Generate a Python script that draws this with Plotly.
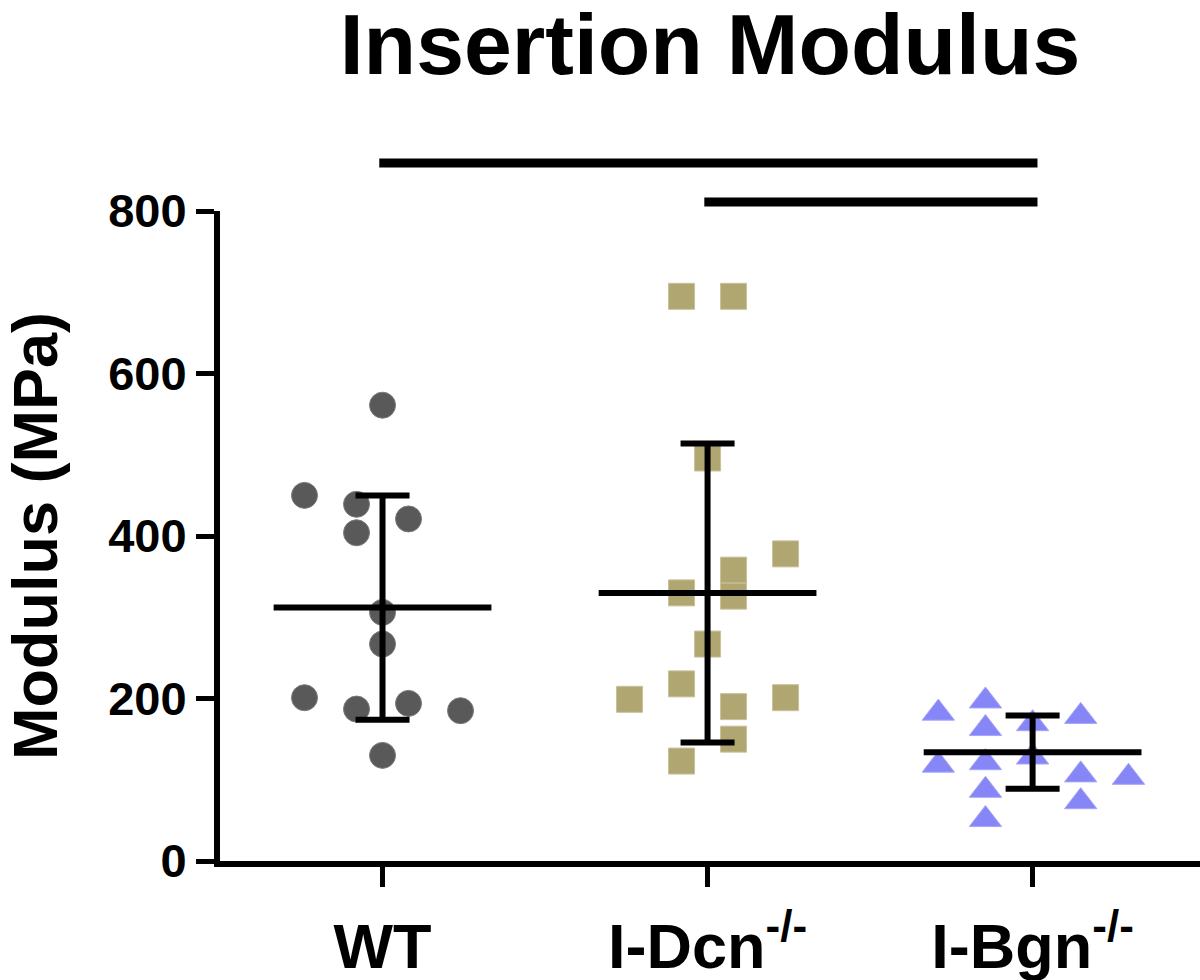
import plotly.graph_objects as go

# ---- data ----
groups = ["WT", "I-Dcn<sup>-/-</sup>", "I-Bgn<sup>-/-</sup>"]

wt_vals = [561, 450, 439, 404, 421, 306, 267, 201, 187, 194, 185, 130]
wt_jitter = [0, -0.24, -0.08, -0.08, 0.08, 0, 0, -0.24, -0.08, 0.08, 0.24, 0]

dcn_vals = [695, 695, 496, 378, 358, 330, 326, 267, 218, 199, 201, 190, 150, 123]
dcn_jitter = [-0.08, 0.08, 0, 0.24, 0.08, -0.08, 0.08, 0, -0.08, -0.24, 0.24, 0.08, 0.08, -0.08]

bgn_vals = [182, 197, 163, 169, 178, 118, 121, 128, 87, 106, 103, 73, 51]
bgn_jitter = [-0.29, -0.145, -0.145, 0, 0.148, -0.29, -0.145, 0, -0.145, 0.148, 0.295, 0.148, -0.145]

means = [312, 330, 134]
sds = [138, 184, 45]

# significance bars: (from group, to group, height in MPa)
sig_from = [0, 1]
sig_to = [2, 2]
sig_level = [859, 811]

y_ticks = [0, 200, 400, 600, 800]
Y_MAX = 800

FONT = "Liberation Sans, Arial, Helvetica, sans-serif"

fig = go.Figure()

series = [
    (0, wt_vals, wt_jitter, "circle", "#595959", "#7a7a7a", 26),
    (1, dcn_vals, dcn_jitter, "square", "#b0a672", "#c9c19a", 26),
    (2, bgn_vals, bgn_jitter, "triangle-up", "#8686f7", "#a5a5fb", 28),
]
for gi, vals, jit, sym, col, edge, sz in series:
    fig.add_trace(go.Scatter(
        x=[gi + j for j in jit], y=vals, mode="markers",
        marker=dict(symbol=sym, size=sz, color=col, line=dict(color=edge, width=1)),
        showlegend=False, hoverinfo="y", cliponaxis=False,
    ))

# mean lines
mx, my = [], []
for gi, m in enumerate(means):
    mx += [gi - 0.335, gi + 0.335, None]
    my += [m, m, None]
fig.add_trace(go.Scatter(x=mx, y=my, mode="lines",
                         line=dict(color="black", width=6),
                         showlegend=False, hoverinfo="skip", cliponaxis=False))

# SD error bars (whiskers + caps)
fig.add_trace(go.Scatter(
    x=list(range(len(means))), y=means, mode="markers",
    marker=dict(size=1, color="rgba(0,0,0,0)"),
    error_y=dict(type="data", array=sds, visible=True, color="black",
                 thickness=6, width=27),
    showlegend=False, hoverinfo="skip", cliponaxis=False,
))

# significance bars (above the plotting area, so drawn in paper-y units)
for a, b, lev in zip(sig_from, sig_to, sig_level):
    fig.add_shape(type="line", xref="x", yref="paper",
                  x0=a - 0.01, x1=b + 0.015, y0=lev / Y_MAX, y1=lev / Y_MAX,
                  line=dict(color="black", width=9))

fig.update_layout(
    width=1200, height=980,
    paper_bgcolor="white", plot_bgcolor="white",
    margin=dict(l=220, r=0, t=211, b=119),
    font=dict(family=FONT, color="black"),
    title=dict(text="<b>Insertion Modulus</b>", x=0.5, xref="paper",
               y=1 - 44 / 980, yref="container", yanchor="middle",
               xanchor="center", font=dict(size=86, family=FONT, color="black")),
    showlegend=False,
)

fig.update_xaxes(
    range=[-0.5, 2.515], tickmode="array", tickvals=[0, 1, 2],
    ticktext=["<b>%s</b>" % g for g in groups],
    tickfont=dict(size=63, family=FONT, color="black"),
    showline=True, linecolor="black", linewidth=6,
    ticks="outside", ticklen=20, tickwidth=5, tickcolor="black",
    ticklabelstandoff=5,
    showgrid=False, zeroline=False,
)
fig.update_yaxes(
    range=[0, Y_MAX], tickmode="array", tickvals=y_ticks,
    ticktext=["<b>%d</b>" % v for v in y_ticks],
    tickfont=dict(size=47, family=FONT, color="black"),
    showline=True, linecolor="black", linewidth=6,
    ticks="outside", ticklen=18, tickwidth=5, tickcolor="black",
    showgrid=False, zeroline=False,
    title=dict(text="<b>Modulus (MPa)</b>", font=dict(size=63, family=FONT, color="black"),
               standoff=36),
)

fig.write_html("out.html", config={"displayModeBar": False},
               post_script="document.body.style.margin='0';")
